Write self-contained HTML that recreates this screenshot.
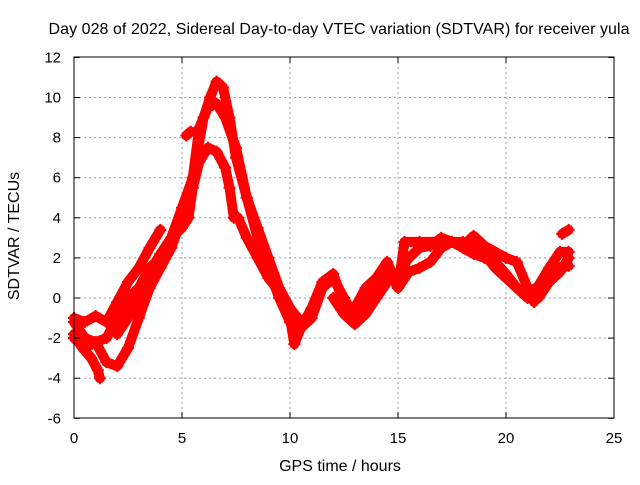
<!DOCTYPE html>
<html><head><meta charset="utf-8"><style>
body{margin:0;background:#fff;font-family:"Liberation Sans",sans-serif}
svg text{font-family:"Liberation Sans",sans-serif;font-size:15px;fill:#000}
</style></head><body>
<svg id="chart" width="640" height="480" xmlns="http://www.w3.org/2000/svg">
<text x="339" y="34" text-anchor="middle" style="font-size:16px" textLength="581">Day 028 of 2022, Sidereal Day-to-day VTEC variation (SDTVAR) for receiver yula</text>
<text x="340" y="471" text-anchor="middle" style="font-size:16px">GPS time / hours</text>
<text x="19" y="236" text-anchor="middle" style="font-size:16px" transform="rotate(-90 19 236)">SDTVAR / TECUs</text>
<g id="grid"></g>
<g id="series"></g>
<rect x="74" y="57" width="540" height="361" fill="none" stroke="#000" stroke-width="1"/>
<g id="ticks"></g>
</svg>
<script>
const xTicks=[0,5,10,15,20,25];
const yTicks=[-6,-4,-2,0,2,4,6,8,10,12];
const serA=[[0,-1],[0.5,-1.2],[1,-0.9],[1.5,-1.2],[2,-0.2],[2.5,0.8],[3,1.5],[3.5,2.5],[4,3.4]];
const serB=[[0,-1.8],[0.4,-2.5],[0.8,-3],[1.1,-3.6],[1.2,-4]];
const serC=[[0,-2],[0.5,-2.5],[1,-2.2],[1.5,-3.2],[2,-3.4],[2.5,-2.5],[3,-1],[3.5,0.5],[4,1.5],[4.5,2.5],[5,4],[5.5,6],[6,9],[6.3,10],[6.6,10.8],[6.9,10.5],[7.2,9],[7.5,7],[8,5],[8.5,3.5],[9,2],[9.5,0.5],[10,-0.5],[10.5,-1.2],[11,-0.8]];
const serD=[[0,-1.2],[0.5,-2],[1,-2.2],[1.5,-2],[2,-1],[2.5,0],[3,0.5],[3.5,1.5],[4,2],[4.5,3],[5,3.5],[5.3,4],[5.5,5.5],[5.8,6.8],[6.2,7.5],[6.6,7.3],[7,6.5],[7.2,5.5],[7.4,4]];
const serE=[[2,-1.8],[2.5,-1],[3,0],[3.5,1.3],[4,2.2],[4.5,3],[5,4.5],[5.5,6],[5.8,8.5],[6.2,9.5],[6.6,9.7],[7,9],[7.5,7.5],[8,5],[8.5,3],[9,1.5],[9.5,0],[10,-1.2],[10.5,-1.5],[11,-1],[11.5,0.5],[12,1],[12.5,0],[13,-1],[13.5,-0.5],[14,0.5],[14.5,1.5],[15,0.5],[15.5,1.3],[16,1.5],[16.5,1.8],[17,2.5],[17.5,2.8],[18,2.5],[18.5,2.2],[19,2],[19.5,1.8],[20,1.2],[20.5,0.5],[21,0],[21.5,0],[22,0.8],[22.5,1.3],[22.9,2]];
const serF=[[7.6,4],[8,3],[8.5,2],[9,1],[9.5,0.3],[10,-1],[10.2,-2.3],[10.5,-1.5],[11,-0.5],[11.5,0.8],[12,1.2],[12.5,-0.3],[13,-0.5],[13.5,0.5],[14,1],[14.5,1.8],[15,0.5],[15.3,2.8],[16,2.8],[17,2.8],[18,2.8],[18.5,2.5],[19,2.2],[19.5,1.5],[20,1],[20.5,0.5],[21,0.2],[21.5,0.6],[22,1.5],[22.5,2.3],[22.9,2.3]];
const serG=[[12,0],[12.5,-0.8],[13,-1.3],[13.5,-0.8],[14,0],[14.5,0.8],[15,1.2],[15.5,2],[16,2.5],[16.5,2.6],[17,3],[17.5,2.8],[18,2.6],[18.5,3.1],[19,2.6],[20,2],[20.5,1.8],[21,0.5],[21.3,-0.2],[21.6,0.5],[22,1],[22.5,1.5],[22.9,1.6]];
const serH=[[5.2,8.1],[5.4,8.3]];
const serI=[[22.6,3.2],[22.9,3.4]];
const allSeries=[serA,serB,serC,serD,serE,serF,serG,serH,serI];
const X=h=>74+h*21.6, Y=v=>298-v*20.05;
const NS="http://www.w3.org/2000/svg";
const grid=document.getElementById('grid'),ticks=document.getElementById('ticks'),sg=document.getElementById('series');
function mk(tag,attrs,parent){const e=document.createElementNS(NS,tag);for(const k in attrs)e.setAttribute(k,attrs[k]);parent.appendChild(e);return e;}
xTicks.forEach(t=>{const x=X(t);
 if(t>0&&t<25){const l=mk('line',{x1:x,y1:57,x2:x,y2:418,stroke:'#a0a0a0','stroke-dasharray':'2,3'},grid);
 }
 const tl=mk('text',{x:x,y:443,'text-anchor':'middle'},ticks);tl.textContent=t;
 
 mk('line',{x1:x,y1:418,x2:x,y2:412,stroke:'#000'},ticks);mk('line',{x1:x,y1:57,x2:x,y2:63,stroke:'#000'},ticks);});
yTicks.forEach(t=>{const y=Y(t);
 if(t>-6&&t<12){const l=mk('line',{x1:74,y1:y,x2:614,y2:y,stroke:'#a0a0a0','stroke-dasharray':'2,3'},grid);
 }
 const tl=mk('text',{x:61,y:y+5,'text-anchor':'end'},ticks);tl.textContent=t;
 
 mk('line',{x1:74,y1:y,x2:80,y2:y,stroke:'#000'},ticks);mk('line',{x1:614,y1:y,x2:608,y2:y,stroke:'#000'},ticks);});
allSeries.forEach((s,i)=>{
 const p=mk('polyline',{points:s.map(d=>X(d[0])+','+Y(d[1])).join(' '),fill:'none',stroke:'#ff0000','stroke-width':10,'stroke-linejoin':'round','stroke-linecap':'round'},sg);
 
 
 s.forEach(d=>{const x=X(d[0]),y=Y(d[1]);
  const m=mk('path',{d:`M${x-6},${y}H${x+6}M${x},${y-6}V${y+6}`,stroke:'#ff0000','stroke-width':2},sg);
  
  });
});
</script>
</body></html>
